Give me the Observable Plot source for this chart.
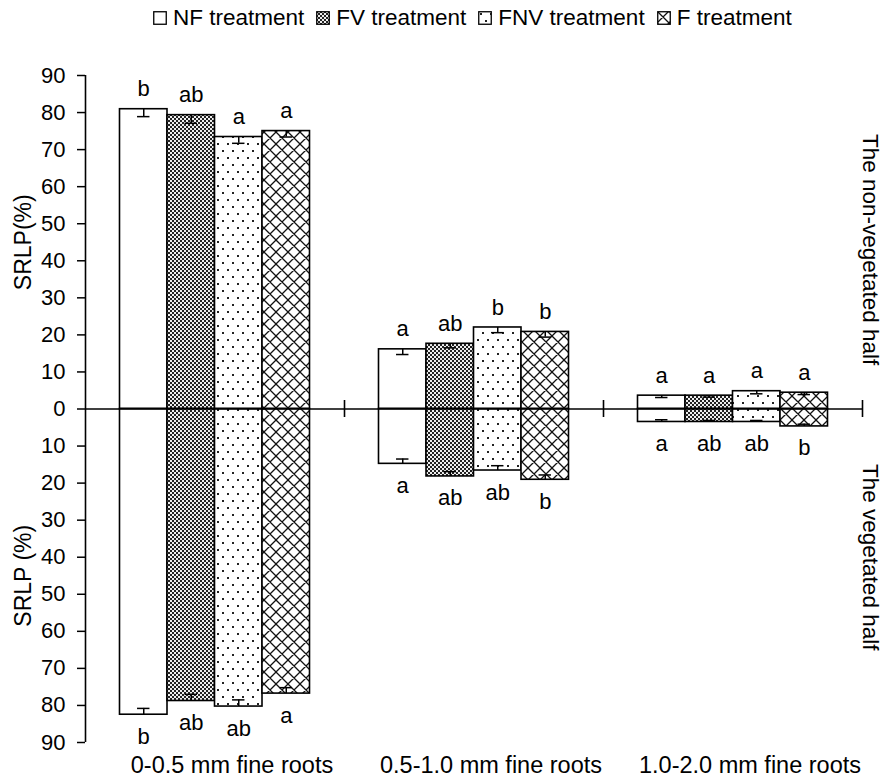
<!DOCTYPE html>
<html><head><meta charset="utf-8">
<script src="https://cdn.jsdelivr.net/npm/d3@7"></script>
<script src="https://cdn.jsdelivr.net/npm/@observablehq/plot@0.6"></script>
<style>
html,body{margin:0;padding:0;background:#fff;}
body{font-family:"Liberation Sans",Arial,sans-serif;color:#000;width:883px;}
#legend{height:36px;display:flex;align-items:center;padding-left:153px;font-size:22.5px;white-space:nowrap;}
.item{display:flex;align-items:center;margin-right:12px;}
.item svg{margin-right:6px;}
#chart svg{display:block;}
</style></head><body>
<svg width="0" height="0" style="position:absolute">
  <defs>
    <pattern id="pFV" width="4" height="4" patternUnits="userSpaceOnUse">
      <rect width="4" height="4" fill="#eeeeee"/>
      <rect x="0" y="0" width="2" height="2" fill="#222"/>
      <rect x="2" y="2" width="2" height="2" fill="#222"/>
    </pattern>
    <pattern id="pFNV" width="10" height="14" patternUnits="userSpaceOnUse">
      <rect width="10" height="14" fill="#fff"/>
      <rect x="2" y="2" width="2" height="2" fill="#222"/>
      <rect x="7" y="9" width="2" height="2" fill="#222"/>
    </pattern>
    <pattern id="pF" width="12" height="12" patternUnits="userSpaceOnUse">
      <rect width="12" height="12" fill="#fff"/>
      <path d="M0,0L12,12M12,0L0,12M-1,11L1,13M11,-1L13,1M-1,1L1,-1M11,13L13,11" stroke="#111" stroke-width="1.3" fill="none"/>
    </pattern>
  </defs>
</svg>
<div id="legend"></div>
<div id="chart"></div>
<script>
// ---- data ----
const groups = ["0-0.5 mm fine roots", "0.5-1.0 mm fine roots", "1.0-2.0 mm fine roots"];
const treatments = ["NF treatment", "FV treatment", "FNV treatment", "F treatment"];
// non-vegetated half (upper), rows = groups, columns = treatments
const upperValues = [[80.9, 79.3, 73.4, 75.0], [16.1, 17.6, 22.0, 20.8], [3.6, 3.6, 4.8, 4.4]];
const upperErrors = [[2.0, 2.2, 1.7, 1.6], [1.4, 1.1, 1.4, 1.4], [0.5, 0.4, 0.7, 0.5]];
const upperLetters = [["b", "ab", "a", "a"], ["a", "ab", "b", "b"], ["a", "a", "a", "a"]];
// vegetated half (lower)
const lowerValues = [[82.5, 78.8, 80.3, 76.8], [14.8, 18.2, 16.6, 19.1], [3.5, 3.5, 3.5, 4.7]];
const lowerErrors = [[1.7, 1.8, 1.8, 1.6], [1.3, 1.3, 1.3, 1.3], [0.6, 0.4, 0.4, 0.6]];
const lowerLetters = [["b", "ab", "ab", "a"], ["a", "ab", "ab", "b"], ["a", "ab", "ab", "b"]];
const yTicks = [-90, -80, -70, -60, -50, -40, -30, -20, -10, 0, 10, 20, 30, 40, 50, 60, 70, 80, 90];
const halfLabels = ["The non-vegetated half", "The vegetated half"];
const axisTitles = ["SRLP(%)", "SRLP (%)"];
const fills = ["#fff", "url(#pFV)", "url(#pFNV)", "url(#pF)"];

// ---- layout helpers (band geometry within each group) ----
const bw = 0.1834;                 // bar width as a fraction of a group
const pad = (1 - 4 * bw) / 2;
const capHalf = 0.024;
const center = d => d.gi + pad + (d.ti + 0.5) * bw;

const rows = [];
groups.forEach((g, gi) => treatments.forEach((t, ti) => {
  rows.push({group: g, gi, treatment: t, ti, v: upperValues[gi][ti], e: upperErrors[gi][ti], letter: upperLetters[gi][ti], up: true});
  rows.push({group: g, gi, treatment: t, ti, v: -lowerValues[gi][ti], e: -lowerErrors[gi][ti], letter: lowerLetters[gi][ti], up: false});
}));
const upper = rows.filter(d => d.up), lower = rows.filter(d => !d.up);

// ---- legend ----
const legend = document.getElementById("legend");
treatments.forEach((t, i) => {
  const item = document.createElement("div");
  item.className = "item";
  item.innerHTML = `<svg width="14" height="14"><rect x="0.75" y="0.75" width="12.5" height="12.5" fill="${fills[i]}" stroke="#000" stroke-width="1.3"/></svg><span>${t}</span>`;
  legend.appendChild(item);
});

// ---- chart ----
const chart = Plot.plot({
  width: 883,
  height: 748,
  marginLeft: 85,
  marginRight: 21,
  marginTop: 39,
  marginBottom: 42,
  style: {fontFamily: "Liberation Sans, Arial, sans-serif", fontSize: "22px", color: "#000", background: "#fff"},
  x: {domain: [0, 3], axis: null},
  y: {domain: [-90, 90], axis: null},
  color: {domain: treatments, range: fills},
  marks: [
    Plot.rect(rows, {x1: d => d.gi + pad + d.ti * bw, x2: d => d.gi + pad + (d.ti + 1) * bw, y1: 0, y2: "v", fill: "treatment", stroke: "#000", strokeWidth: 1.6}),
    // error bars (toward zero)
    Plot.ruleX(rows, {x: center, y1: "v", y2: d => d.v - d.e, stroke: "#000", strokeWidth: 1.5}),
    Plot.ruleY(rows, {y: d => d.v - d.e, x1: d => center(d) - capHalf, x2: d => center(d) + capHalf, stroke: "#000", strokeWidth: 1.5}),
    // zero line and y axis line
    Plot.ruleY([0], {stroke: "#000", strokeWidth: 1.6}),
    Plot.ruleX([0], {stroke: "#000", strokeWidth: 1.6}),
    // group separator ticks
    Plot.ruleX([1, 2, 3], {y1: -2.3, y2: 2.3, stroke: "#000", strokeWidth: 1.6}),
    Plot.axisY({ticks: yTicks, tickFormat: d => Math.abs(d), tickSize: 8, tickPadding: 12, fontSize: 22, strokeWidth: 1.5, anchor: "left", label: null}),
    // significance letters
    Plot.text(upper, {x: center, y: "v", text: "letter", dy: -20, fontSize: 22}),
    Plot.text(lower, {x: center, y: "v", text: "letter", dy: 22, fontSize: 22}),
    // group labels
    Plot.text(groups, {x: (d, i) => i + 0.5, frameAnchor: "bottom", dy: 30, dx: 17, fontSize: 23.5}),
    // y titles
    Plot.text([axisTitles[0]], {x: 0, y: 45, rotate: -90, dx: -62, fontSize: 23}),
    Plot.text([axisTitles[1]], {x: 0, y: -45, rotate: -90, dx: -62, fontSize: 23}),
    // half labels at right
    Plot.text([halfLabels[0]], {x: 3, y: 43, rotate: 90, dx: 8, fontSize: 22.5}),
    Plot.text([halfLabels[1]], {x: 3, y: -40, rotate: 90, dx: 8, fontSize: 22.5})
  ]
});
document.getElementById("chart").appendChild(chart);
</script>
</body></html>
